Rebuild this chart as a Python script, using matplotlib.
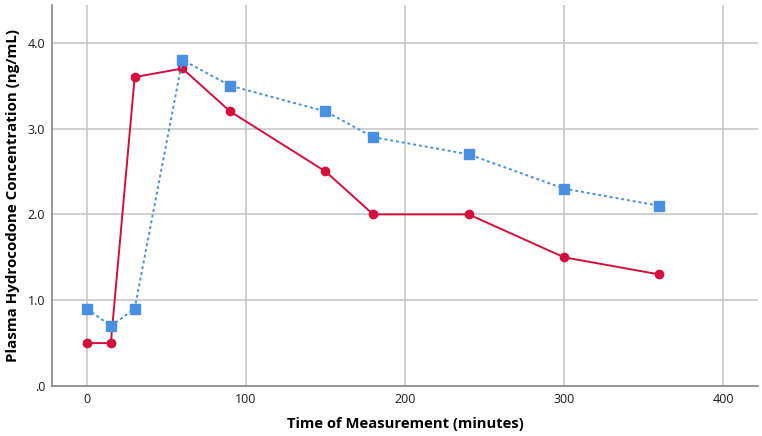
"""Plasma hydrocodone concentration over time, two formulations."""

import matplotlib

matplotlib.use("Agg")
import matplotlib.pyplot as plt
from matplotlib.ticker import FuncFormatter

plt.rcParams["font.family"] = ["Open Sans", "DejaVu Sans"]

TIMES = [0, 15, 30, 60, 90, 150, 180, 240, 300, 360]
RED_CONC = [0.5, 0.5, 3.6, 3.7, 3.2, 2.5, 2.0, 2.0, 1.5, 1.3]
BLUE_CONC = [0.9, 0.7, 0.9, 3.8, 3.5, 3.2, 2.9, 2.7, 2.3, 2.1]
X_TICKS = [0, 100, 200, 300, 400]
Y_TICKS = [0.0, 1.0, 2.0, 3.0, 4.0]


def _y_label(value, _pos):
    text = f"{value:.1f}"
    return text[1:] if text.startswith("0") else text


figure = plt.figure(figsize=(7.62, 4.36), dpi=100)
axis = figure.add_axes([52 / 762, 50 / 436, 706 / 762, 381 / 436])

axis.plot(TIMES, RED_CONC, color="#d50f3c", linewidth=1.4, marker="o",
          markersize=6, zorder=3)
axis.plot(TIMES, BLUE_CONC, color="#4a90e2", linewidth=1.4, linestyle=(0, (1.5, 1.5)),
          marker="s", markersize=6.5, zorder=3)

axis.set_xlim(-22, 422)
axis.set_ylim(0, 4.44)
axis.set_xticks(X_TICKS)
axis.set_yticks(Y_TICKS)
axis.yaxis.set_major_formatter(FuncFormatter(_y_label))
axis.grid(True, color="#c8c8c8", linewidth=1.2)
axis.set_axisbelow(True)
for side in ("top", "right"):
    axis.spines[side].set_visible(False)
for side in ("left", "bottom"):
    axis.spines[side].set_color("#888888")
    axis.spines[side].set_linewidth(1.2)
axis.tick_params(length=0, labelsize=9, colors="#1a1a1a", pad=5)

axis.set_xlabel("Time of Measurement (minutes)", fontsize=10.6, fontweight="bold")
axis.set_ylabel("Plasma Hydrocodone Concentration (ng/mL)", fontsize=10.9,
                fontweight="bold")
axis.xaxis.set_label_coords(0.5, -31 / 381, transform=axis.transAxes)
axis.yaxis.set_label_coords(-32 / 706, 0.5, transform=axis.transAxes)

figure.savefig("out.png", dpi=100)
